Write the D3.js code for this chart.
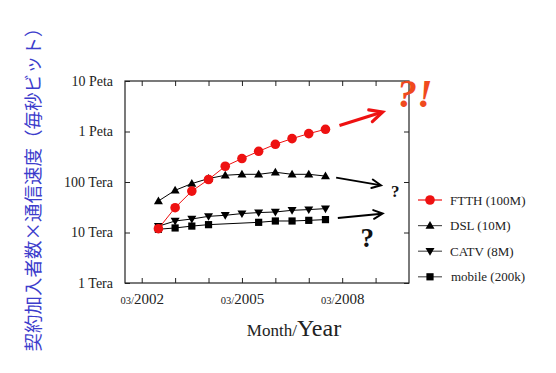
<!DOCTYPE html>
<html>
<head>
<meta charset="utf-8">
<script src="https://cdn.jsdelivr.net/npm/d3@7"></script>
<style>
  body { margin: 0; background: #fff; }
  svg text { font-family: "Liberation Serif", "DejaVu Serif", serif; }
</style>
</head>
<body>
<svg id="chart" width="556" height="373"></svg>
<script>
// data (values in Tera bit/s, half-year steps)
const dates  = [2002.75, 2003.25, 2003.75, 2004.25, 2004.75, 2005.25, 2005.75, 2006.25, 2006.75, 2007.25, 2007.75]
const ftth   = [11.9, 31, 66, 112, 205, 291, 405, 558, 723, 908, 1106]
const dsl    = [42, 68.5, 93, 117, 136, 142, 142, 156, 142, 142, 131]
const catv   = [13.3, 16.9, 18.5, 20.9, 21.9, 23.7, 24.8, 25.5, 27.5, 28.4, 29.7]
const mobile = [11.6, 12.3, 13.4, 14.3, null, null, 15.9, 16.9, 16.9, 17.4, 18]
const seriesNames = ["FTTH (100M)", "DSL (10M)", "CATV (8M)", "mobile (200k)"]
const yTickVals = [1, 10, 100, 1000, 10000]
const yTickLabels = ["1 Tera", "10 Tera", "100 Tera", "1 Peta", "10 Peta"]
const xTickVals = [2002.25, 2003.25, 2004.25, 2005.25, 2006.25, 2007.25, 2008.25, 2009.25]
const xLabelYears = ["2002", "2005", "2008"]

// arrows / question marks in data units [x, tera]
const arrows = [
  {from: [2008.17, 1320], to: [2009.46, 2430], color: "#ee1111", w: 3.2},
  {from: [2008.07, 122], to: [2009.41, 86], color: "#000", w: 2},
  {from: [2008.12, 19.4], to: [2009.46, 23.7], color: "#000", w: 2}
]

var margin = {top: 81, right: 147, bottom: 90, left: 125}
var width = 556 - margin.left - margin.right
var height = 373 - margin.top - margin.bottom

var svg = d3.select("#chart")
var g = svg.append("g").attr("transform", `translate(${margin.left},${margin.top})`)

var x = d3.scaleLinear().domain([2001.75, 2010.25]).range([0, width])
var y = d3.scaleLog().domain([1, 10000]).range([height, 0])

// axes with inward ticks on all sides
var xAxis = d3.axisBottom(x).tickValues(xTickVals).tickSizeInner(-5).tickSizeOuter(0).tickPadding(10)
    .tickFormat(d => "")
g.append("g").attr("class", "xaxis").attr("transform", `translate(0,${height})`).call(xAxis)
g.append("g").attr("transform", `translate(0,0)`)
    .call(d3.axisTop(x).tickValues(xTickVals).tickSizeInner(-5).tickSizeOuter(0).tickFormat(d => ""))
g.append("g")
    .call(d3.axisLeft(y).tickValues(yTickVals).tickSizeInner(-5).tickSizeOuter(0).tickPadding(12)
        .tickFormat((d, i) => yTickLabels[i]))
g.append("g").attr("transform", `translate(${width},0)`)
    .call(d3.axisRight(y).tickValues(yTickVals).tickSizeInner(-5).tickSizeOuter(0).tickFormat(d => ""))
g.selectAll(".domain").remove()
g.selectAll(".tick line").attr("stroke", "#222")
g.selectAll(".tick text").style("font-family", "Liberation Serif").attr("font-size", 14).attr("fill", "#222")

// x labels "03/2002" with small month
g.selectAll(".xaxis .tick text").each(function(d) {
    var yr = String(Math.floor(d))
    if (xLabelYears.indexOf(yr) < 0) return
    var t = d3.select(this).attr("font-size", 15)
    t.append("tspan").attr("font-size", 10.5).text("03/")
    t.append("tspan").text(yr)
})

g.append("rect").attr("width", width).attr("height", height)
    .attr("fill", "none").attr("stroke", "#222").attr("stroke-width", 1.2)

// series
var series = [
  {name: seriesNames[0], vals: ftth, color: "#ee1111", lineColor: "#ee1111", shape: "circle"},
  {name: seriesNames[1], vals: dsl, color: "#000", lineColor: "#000", shape: "up"},
  {name: seriesNames[2], vals: catv, color: "#000", lineColor: "#000", shape: "down"},
  {name: seriesNames[3], vals: mobile, color: "#000", lineColor: "#000", shape: "square"}
]

function marker(sel, shape, color) {
    if (shape == "circle") {
        sel.append("circle").attr("r", 4.8).attr("fill", color)
    } else if (shape == "square") {
        sel.append("rect").attr("x", -3.6).attr("y", -3.6).attr("width", 7.2).attr("height", 7.2).attr("fill", color)
    } else if (shape == "up") {
        sel.append("path").attr("d", "M0,-4.5L4.5,3.2L-4.5,3.2Z").attr("fill", color)
    } else {
        sel.append("path").attr("d", "M0,4.5L4.5,-3.2L-4.5,-3.2Z").attr("fill", color)
    }
}

var line = d3.line().x(d => x(d[0])).y(d => y(d[1]))

// draw black series first, FTTH on top
series.slice().reverse().forEach(s => {
    var pts = dates.map((d, i) => [d, s.vals[i]]).filter(p => p[1] != null)
    g.append("path").datum(pts)
        .attr("fill", "none").attr("stroke", s.lineColor).attr("stroke-width", 1)
        .attr("d", line)
    g.selectAll(null).data(pts).enter().append("g")
        .attr("transform", p => `translate(${x(p[0])},${y(p[1])})`)
        .each(function() { marker(d3.select(this), s.shape, s.color) })
})

// arrows
arrows.forEach(a => {
    var x1 = x(a.from[0]), y1 = y(a.from[1]), x2 = x(a.to[0]), y2 = y(a.to[1])
    var ang = Math.atan2(y2 - y1, x2 - x1)
    var hl = a.w > 2.5 ? 14 : 10
    g.append("line").attr("x1", x1).attr("y1", y1).attr("x2", x2 - Math.cos(ang)).attr("y2", y2 - Math.sin(ang))
        .attr("stroke", a.color).attr("stroke-width", a.w)
    var p1 = [x2 - hl * Math.cos(ang - 0.45), y2 - hl * Math.sin(ang - 0.45)]
    var p2 = [x2 - hl * Math.cos(ang + 0.45), y2 - hl * Math.sin(ang + 0.45)]
    g.append("path").attr("d", `M${p1}L${x2},${y2}L${p2}`)
        .attr("fill", "none").attr("stroke", a.color).attr("stroke-width", a.w)
        .attr("stroke-linecap", "round").attr("stroke-linejoin", "miter")
})

g.append("text").attr("x", x(2010.42)).attr("y", y(3050)).attr("text-anchor", "middle")
    .style("font-family", "Liberation Serif")
    .attr("font-size", 40).attr("font-weight", "bold").attr("font-style", "italic")
    .attr("fill", "#f04a1e").text("?!")
g.append("text").attr("x", x(2009.71)).attr("y", y(50.5))
    .attr("font-size", 17).attr("font-weight", "bold").attr("fill", "#111").text("?")
g.append("text").attr("x", x(2009.0)).attr("y", y(5.2)).attr("text-anchor", "middle")
    .attr("font-size", 27).attr("font-weight", "bold").attr("fill", "#111").text("?")

// legend
var legend = svg.append("g").attr("transform", "translate(418,200)")
series.forEach((s, i) => {
    var row = legend.append("g").attr("transform", `translate(0,${i * 25.6})`)
    row.append("line").attr("x1", 0).attr("x2", 24)
        .attr("stroke", i == 0 ? "#ee1111" : "#555").attr("stroke-width", 1.2)
    marker(row.append("g").attr("transform", "translate(12,0)"), s.shape, s.color)
    row.append("text").attr("x", i == 3 ? 33 : 32).attr("dy", "0.35em")
        .attr("font-size", 13).attr("fill", "#222").text(s.name)
})

// axis titles
var xt = svg.append("text").attr("x", 294).attr("y", 336).attr("text-anchor", "middle").attr("fill", "#222")
xt.append("tspan").attr("font-size", 17).text("Month/")
xt.append("tspan").attr("font-size", 24).text("Year")

svg.append("text")
    .attr("transform", "translate(40,185) rotate(-90)")
    .attr("text-anchor", "middle")
    .style("font-family", "Noto Sans CJK JP")
    .attr("font-size", 18.5)
    .attr("fill", "#3d3dcc")
    .text("契約加入者数×通信速度（毎秒ビット）")
</script>
</body>
</html>
